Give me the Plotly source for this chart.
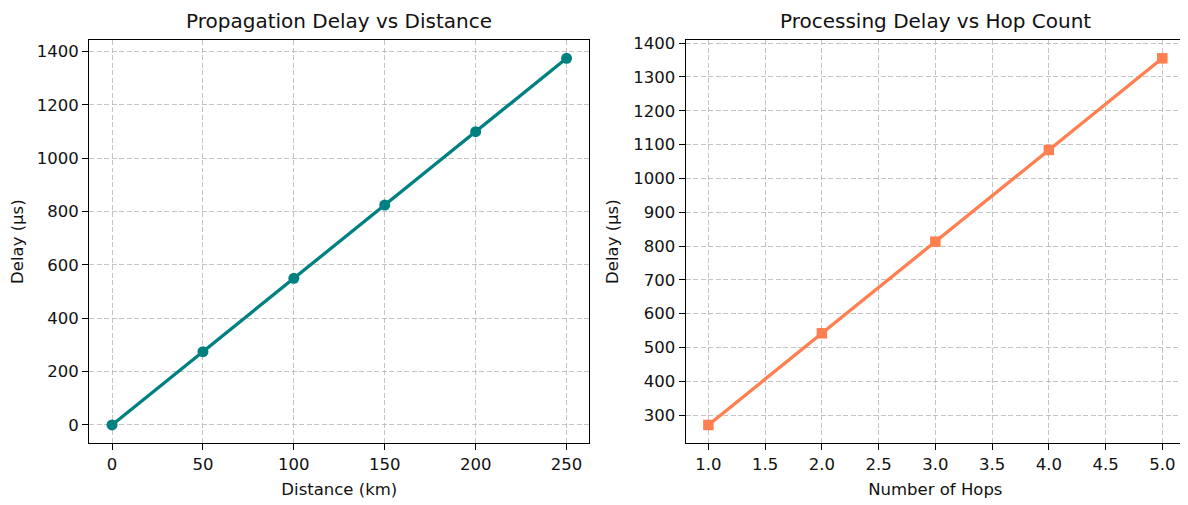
import plotly.graph_objects as go
from plotly.subplots import make_subplots

distance_km = [0, 50, 100, 150, 200, 250]
prop_delay_us = [0, 275, 550, 825, 1100, 1375]
hops = [1, 2, 3, 4, 5]
proc_delay_us = [271, 542, 813, 1084, 1355]

left_title = "Propagation Delay vs Distance"
right_title = "Processing Delay vs Hop Count"

# page is 1188x505; the html body has an 8px margin, so the figure is offset
OFF = 8
W, H = 1188 - OFF, 505 - OFF

def px_x(p):
    return (p - OFF) / W

def px_y(p):
    return (H - (p - OFF)) / H

fig = make_subplots(rows=1, cols=2)
fig.add_trace(go.Scatter(x=distance_km, y=prop_delay_us, mode="lines+markers",
                         line=dict(color="#008080", width=3.3),
                         marker=dict(symbol="circle", size=11, color="#008080"),
                         showlegend=False, cliponaxis=False), row=1, col=1)
fig.add_trace(go.Scatter(x=hops, y=proc_delay_us, mode="lines+markers",
                         line=dict(color="#FF7F50", width=3.3),
                         marker=dict(symbol="square", size=10.5, color="#FF7F50"),
                         showlegend=False, cliponaxis=False), row=1, col=2)

font = dict(family="DejaVu Sans", size=16.5, color="#111111")
axcommon = dict(showline=True, linecolor="black", linewidth=1.3, mirror=True,
                ticks="outside", ticklen=6, tickwidth=1.3, tickcolor="black",
                showgrid=True, gridcolor="rgba(176,176,176,0.75)", griddash="5px,2.5px",
                gridwidth=1.2, zeroline=False, tickfont=font, automargin=False)

y0 = px_y(443.3)
y1 = px_y(40)
fig.update_layout(
    width=W, height=H, margin=dict(l=0, r=0, t=0, b=0, autoexpand=False),
    paper_bgcolor="white", plot_bgcolor="white", font=font,
    xaxis=dict(domain=[px_x(89.3), px_x(589.3)], range=[-12.5, 262.5],
               tickvals=[0, 50, 100, 150, 200, 250],
               title=dict(text="Distance (km)", font=font, standoff=10), **axcommon),
    yaxis=dict(domain=[y0, y1], range=[-68.75, 1443.75],
               tickvals=list(range(0, 1401, 200)),
               title=dict(text="Delay (µs)", font=font, standoff=10), **axcommon),
    xaxis2=dict(domain=[px_x(685.7), px_x(1185)], range=[0.8, 5.2],
                tickvals=[1.0, 1.5, 2.0, 2.5, 3.0, 3.5, 4.0, 4.5, 5.0], tickformat=".1f",
                title=dict(text="Number of Hops", font=font, standoff=10), **axcommon),
    yaxis2=dict(domain=[y0, y1], range=[216.8, 1409.2],
                tickvals=list(range(300, 1401, 100)),
                title=dict(text="Delay (µs)", font=font, standoff=10), **axcommon),
)

for xref, yref, txt in [("x domain", "y domain", left_title), ("x2 domain", "y2 domain", right_title)]:
    fig.add_annotation(x=0.5, y=1, xref=xref, yref=yref, text=txt, showarrow=False,
                       xanchor="center", yanchor="bottom", yshift=5,
                       font=dict(family="DejaVu Sans", size=20, color="#111111"))

fig.write_html("out.html")
